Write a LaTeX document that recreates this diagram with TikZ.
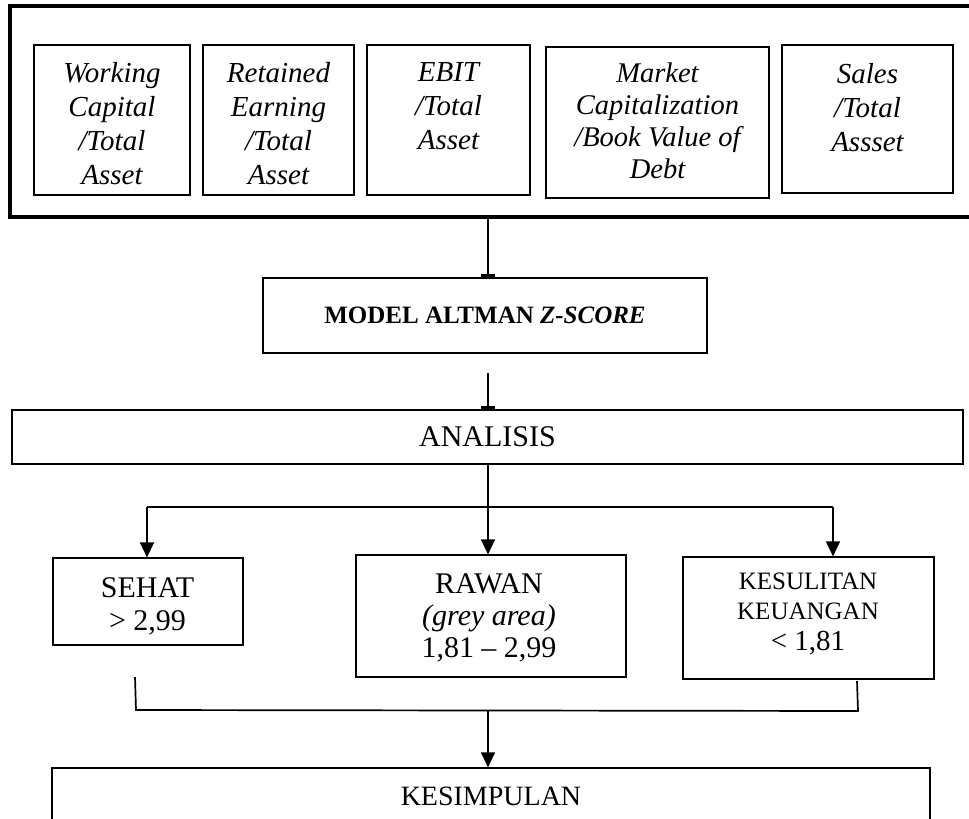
\documentclass[tikz,border=0pt]{standalone}
\usepackage{fontspec}
\setmainfont{Liberation Serif}
\usetikzlibrary{arrows.meta}
\begin{document}
\begin{tikzpicture}[x=1pt,y=-1pt,
  frame/.style={draw, line width=4pt, inner sep=0pt},
  box/.style={draw, line width=1.2pt, inner sep=0pt},
  lbl/.style={inner sep=0pt, align=center, anchor=north},
  ital/.style={font=\fontsize{29}{34}\selectfont\itshape},
  conn/.style={line width=1.3pt},
  tarrow/.style={conn, -{Triangle[width=14pt,length=15pt]}},
  bararrow/.style={conn, -{Bar[width=14pt,line width=3pt]}}
]
\clip (0,0) rectangle (969,819);
\fill[white] (0,0) rectangle (969,819);
% top frame and factor boxes
\node[frame, minimum width=975pt, minimum height=211pt] (outer) at (497.5,111.5) {};
\node[box, minimum width=156pt, minimum height=150pt] (b1) at (112,120) {};
\node[box, minimum width=151pt, minimum height=150pt] (b2) at (278.5,120) {};
\node[box, minimum width=163pt, minimum height=150pt] (b3) at (448.5,120) {};
\node[box, minimum width=223pt, minimum height=151pt] (b4) at (657.5,122.5) {};
\node[box, minimum width=171pt, minimum height=148pt] (b5) at (867.5,119) {};
\node[lbl, ital] (t1) at (112,62) {Working\\Capital\\/Total\\Asset};
\node[lbl, ital] (t2) at (278.5,62) {Retained\\Earning\\/Total\\Asset};
\node[lbl, ital] (t3) at (448.5,62) {EBIT\\/Total\\Asset};
\node[lbl, ital, font=\fontsize{28.5}{32}\selectfont\itshape] (t4) at (657.5,63) {Market\\Capitalization\\/Book Value of\\Debt};
\node[lbl, ital] (t5) at (867.5,63) {Sales\\/Total\\Assset};
% model
\node[box, minimum width=444pt, minimum height=75pt, font=\fontsize{25}{30}\selectfont\bfseries] (model) at (485,315.5) {MODEL ALTMAN \textit{Z-SCORE}};
% analisis
\node[box, minimum width=951pt, minimum height=54pt, font=\fontsize{30}{34}\selectfont] (ana) at (487.5,437) {ANALISIS};
% results
\node[box, minimum width=190pt, minimum height=87pt] (sehat) at (148,601.5) {};
\node[lbl, font=\fontsize{30}{33}\selectfont] (sehatt) at (147.5,577) {SEHAT\\> 2,99};
\node[box, minimum width=270pt, minimum height=122pt] (rawan) at (491,616) {};
\node[lbl, font=\fontsize{30}{32}\selectfont] (rawant) at (489,573) {RAWAN\\\textit{(grey area)}\\1,81 – 2,99};
\node[box, minimum width=251pt, minimum height=122pt] (kes) at (808.5,618) {};
\node[lbl, font=\fontsize{25}{30}\selectfont] (kest) at (808,573) {KESULITAN\\KEUANGAN\\[1pt]{\fontsize{29}{30}\selectfont < 1,81}};
% conclusion
\node[box, minimum width=878pt, minimum height=100pt] (kesim) at (491,818) {};
\node[inner sep=0pt, anchor=base, font=\fontsize{28}{32}\selectfont] (kesimt) at (491,805) {KESIMPULAN};
% connectors
\coordinate (cx) at (488,0);
\coordinate (m2) at (488,373);
\draw[bararrow] (cx |- outer.south) -- (cx |- model.north);
\draw[bararrow] (m2) -- (cx |- ana.north);
\draw[tarrow] (cx |- ana.south) -- (cx |- rawan.north);
\coordinate (bl) at (147,507);
\coordinate (br) at (833,507);
\draw[conn] (bl) -- (br);
\draw[tarrow] (bl) -- (bl |- sehat.north);
\draw[tarrow] (br) -- (br |- kes.north);
\coordinate (k1) at (135,677);
\coordinate (k2) at (136,710);
\coordinate (k3) at (858,711);
\coordinate (k4) at (857,681);
\coordinate (k5) at (488,711);
\draw[conn, line width=1.7pt] (k1) -- (k2) -- (k3) -- (k4);
\draw[tarrow] (k5) -- (cx |- kesim.north);
\end{tikzpicture}
\end{document}
